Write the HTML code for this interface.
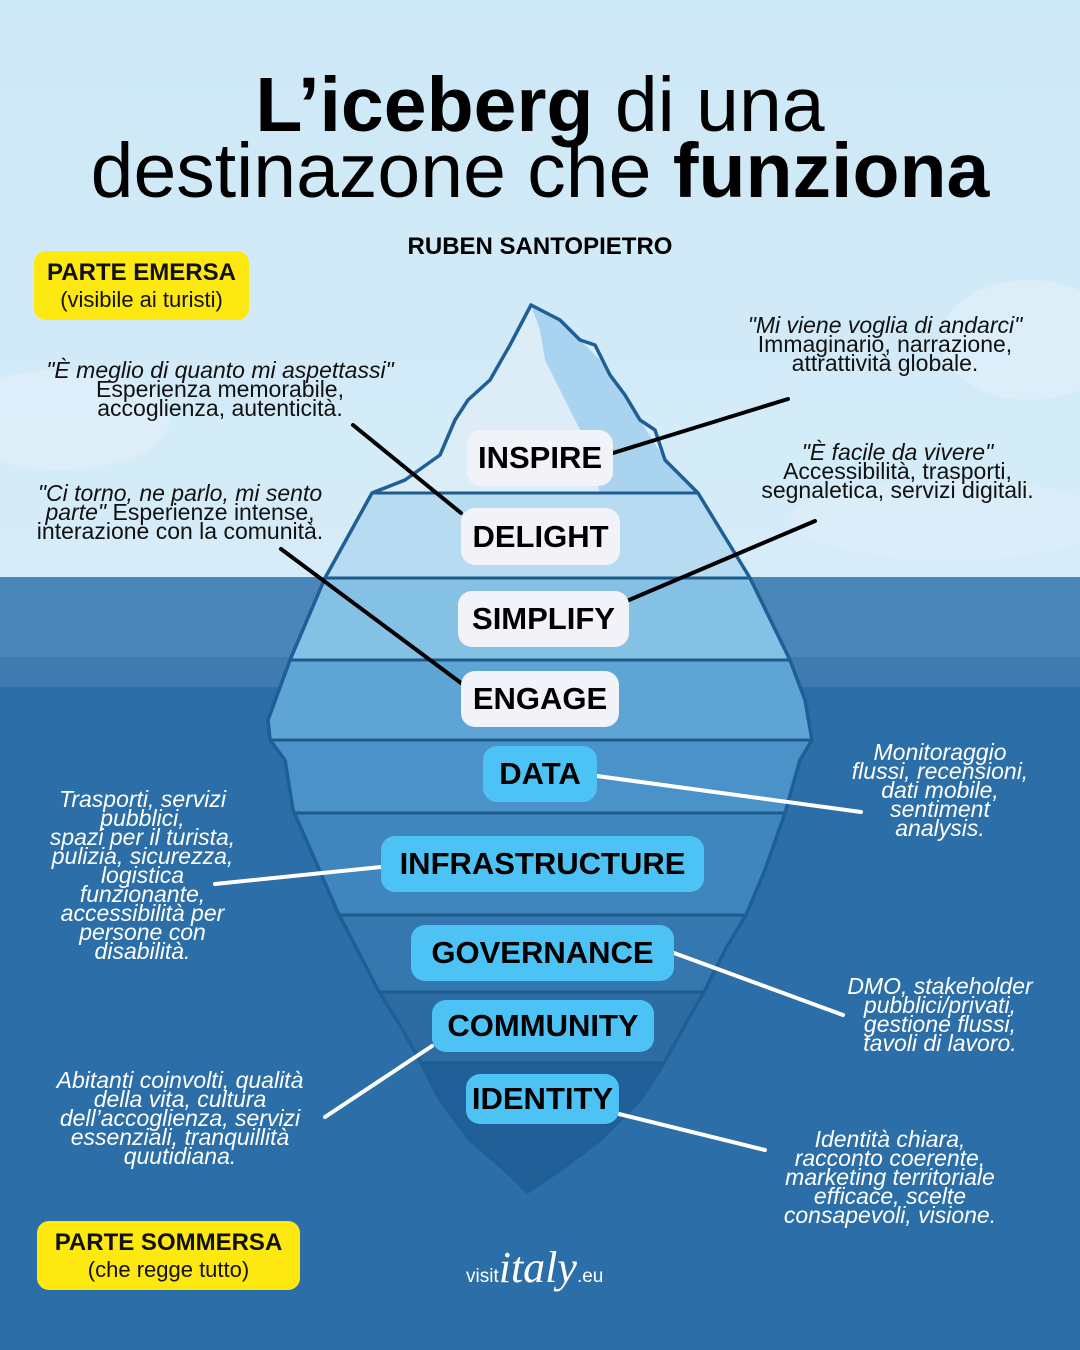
<!DOCTYPE html>
<html><head><meta charset="utf-8"><style>
body{margin:0}
#c{position:relative;width:1080px;height:1350px;overflow:hidden;font-family:"Liberation Sans",sans-serif;background:#2b6ea8}
.t{position:absolute;white-space:nowrap}
.pill{position:absolute;border-radius:14px;font-weight:bold;font-size:31px;color:#000;display:flex;align-items:center;justify-content:center;white-space:nowrap}
.w{background:#f1f3f8}.b{background:#4dc3f5}
.note{position:absolute;text-align:center;font-size:23px;line-height:19px;color:#111;white-space:nowrap}
.wn{color:#fff;font-style:italic}
.y{position:absolute;background:#fde910;border-radius:12px;text-align:center;color:#111}
</style></head><body><div id="c">
<svg width="1080" height="1350" style="position:absolute;left:0;top:0">
<defs><clipPath id="ice"><polygon id="p" points="531,305 510,345 490,380 468,400 455,420 440,455 405,480 372,493 325,578 290,660 268,720 270,740 285,760 293,810 315,860 339,915 360,955 378,990 400,1025 421,1063 440,1100 470,1140 505,1170 527,1192 560,1170 600,1140 640,1100 664,1063 685,1025 705,990 725,950 746,915 765,870 785,813 800,760 812,740 805,700 790,660 750,578 698,493 665,460 655,430 640,420 625,395 610,375 595,345 580,340 560,320"/></clipPath>
<linearGradient id="sky" x1="0" y1="0" x2="0" y2="1"><stop offset="0" stop-color="#cde8f7"/><stop offset="1" stop-color="#d6ecf8"/></linearGradient></defs>
<rect x="0" y="0" width="1080" height="577" fill="url(#sky)"/>
<ellipse cx="60" cy="420" rx="110" ry="50" fill="#e6f2fa" opacity="0.5"/>
<ellipse cx="1030" cy="340" rx="90" ry="60" fill="#e6f2fa" opacity="0.5"/>
<ellipse cx="950" cy="520" rx="160" ry="40" fill="#e2f0f9" opacity="0.4"/>
<rect x="0" y="577" width="1080" height="80" fill="#4a86b8"/>
<rect x="0" y="657" width="1080" height="30" fill="#3f7bb0"/>
<rect x="0" y="687" width="1080" height="663" fill="#2b6ea8"/>
<g clip-path="url(#ice)">
<rect x="0" y="300" width="1080" height="193" fill="#dcedf8"/>
<polygon points="531,305 560,320 580,340 600,360 640,420 665,460 698,493 600,493 580,430 560,390 545,360 540,330" fill="#a9d3ee"/>
<rect x="0" y="493" width="1080" height="85" fill="#b7dcf2"/>
<rect x="0" y="578" width="1080" height="82" fill="#85c0e5"/>
<rect x="0" y="660" width="1080" height="80" fill="#5ea4d4"/>
<rect x="0" y="740" width="1080" height="73" fill="#4b92c8"/>
<rect x="0" y="813" width="1080" height="102" fill="#3f86bd"/>
<rect x="0" y="915" width="1080" height="77" fill="#3478af"/>
<rect x="0" y="992" width="1080" height="71" fill="#2c6ca3"/>
<rect x="0" y="1063" width="1080" height="140" fill="#205f97"/>
<g stroke="#1d5a8e" stroke-width="3">
<line x1="0" y1="493" x2="1080" y2="493"/><line x1="0" y1="578" x2="1080" y2="578"/><line x1="0" y1="660" x2="1080" y2="660"/><line x1="0" y1="740" x2="1080" y2="740"/><line x1="0" y1="813" x2="1080" y2="813"/><line x1="0" y1="915" x2="1080" y2="915"/><line x1="0" y1="992" x2="1080" y2="992"/><line x1="0" y1="1063" x2="1080" y2="1063"/></g>
</g>
<use href="#p" fill="none" stroke="#1d5f96" stroke-width="3.5" stroke-linejoin="round"/>
<g stroke-width="4" stroke-linecap="round">
<line x1="613" y1="453" x2="788" y2="399" stroke="#000"/>
<line x1="461" y1="513" x2="353" y2="425" stroke="#000"/>
<line x1="629" y1="600" x2="815" y2="521" stroke="#000"/>
<line x1="461" y1="683" x2="281" y2="549" stroke="#000"/>
<line x1="597" y1="776" x2="861" y2="812" stroke="#fff"/>
<line x1="381" y1="867" x2="215" y2="884" stroke="#fff"/>
<line x1="674" y1="953" x2="843" y2="1015" stroke="#fff"/>
<line x1="432" y1="1046" x2="325" y2="1117" stroke="#fff"/>
<line x1="619" y1="1114" x2="765" y2="1150" stroke="#fff"/>
</g>
</svg>
<div class="t" style="left:0;width:1080px;text-align:center;top:72px;font-size:77px;line-height:66px;color:#000"><b>L’iceberg</b> di una<br>destinazone che <b>funziona</b></div>
<div class="t" style="left:0;width:1080px;text-align:center;top:233px;font-size:24px;font-weight:bold">RUBEN SANTOPIETRO</div>
<div class="y" style="left:34px;top:251px;width:215px;height:69px"><div style="font-weight:bold;font-size:24px;margin-top:8px">PARTE EMERSA</div><div style="font-size:22px">(visibile ai turisti)</div></div>
<div class="y" style="left:37px;top:1221px;width:263px;height:69px"><div style="font-weight:bold;font-size:24px;margin-top:8px">PARTE SOMMERSA</div><div style="font-size:22px">(che regge tutto)</div></div>
<div class="pill w" style="left:467px;top:430px;width:146px;height:56px">INSPIRE</div>
<div class="pill w" style="left:461px;top:508px;width:159px;height:57px">DELIGHT</div>
<div class="pill w" style="left:458px;top:591px;width:171px;height:56px">SIMPLIFY</div>
<div class="pill w" style="left:461px;top:671px;width:158px;height:56px">ENGAGE</div>
<div class="pill b" style="left:483px;top:746px;width:114px;height:56px">DATA</div>
<div class="pill b" style="left:381px;top:836px;width:323px;height:56px">INFRASTRUCTURE</div>
<div class="pill b" style="left:411px;top:925px;width:263px;height:56px">GOVERNANCE</div>
<div class="pill b" style="left:432px;top:1000px;width:222px;height:52px">COMMUNITY</div>
<div class="pill b" style="left:466px;top:1074px;width:153px;height:50px">IDENTITY</div>
<div class="note" style="left:720px;width:330px;top:316px"><i>"Mi viene voglia di andarci"</i><br>Immaginario, narrazione,<br>attrattività globale.</div>
<div class="note" style="left:20px;width:400px;top:361px"><i>"È meglio di quanto mi aspettassi"</i><br>Esperienza memorabile,<br>accoglienza, autenticità.</div>
<div class="note" style="left:740px;width:315px;top:443px"><i>"È facile da vivere"</i><br>Accessibilità, trasporti,<br>segnaletica, servizi digitali.</div>
<div class="note" style="left:15px;width:330px;top:484px"><i>"Ci torno, ne parlo, mi sento<br>parte"</i> Esperienze intense,<br>interazione con la comunità.</div>
<div class="note wn" style="left:830px;width:220px;top:743px">Monitoraggio<br>flussi, recensioni,<br>dati mobile,<br>sentiment<br>analysis.</div>
<div class="note wn" style="left:30px;width:225px;top:790px">Trasporti, servizi<br>pubblici,<br>spazi per il turista,<br>pulizia, sicurezza,<br>logistica<br>funzionante,<br>accessibilità per<br>persone con<br>disabilità.</div>
<div class="note wn" style="left:825px;width:230px;top:977px">DMO, stakeholder<br>pubblici/privati,<br>gestione flussi,<br>tavoli di lavoro.</div>
<div class="note wn" style="left:30px;width:300px;top:1071px">Abitanti coinvolti, qualità<br>della vita, cultura<br>dell’accoglienza, servizi<br>essenziali, tranquillità<br>quutidiana.</div>
<div class="note wn" style="left:760px;width:260px;top:1130px">Identità chiara,<br>racconto coerente,<br>marketing territoriale<br>efficace, scelte<br>consapevoli, visione.</div>
<div class="t" style="left:466px;top:1242px;color:#fff;font-size:19px">visit<span style="font-family:'Liberation Serif',serif;font-style:italic;font-size:44px;">italy</span>.eu</div>
</div></body></html>
